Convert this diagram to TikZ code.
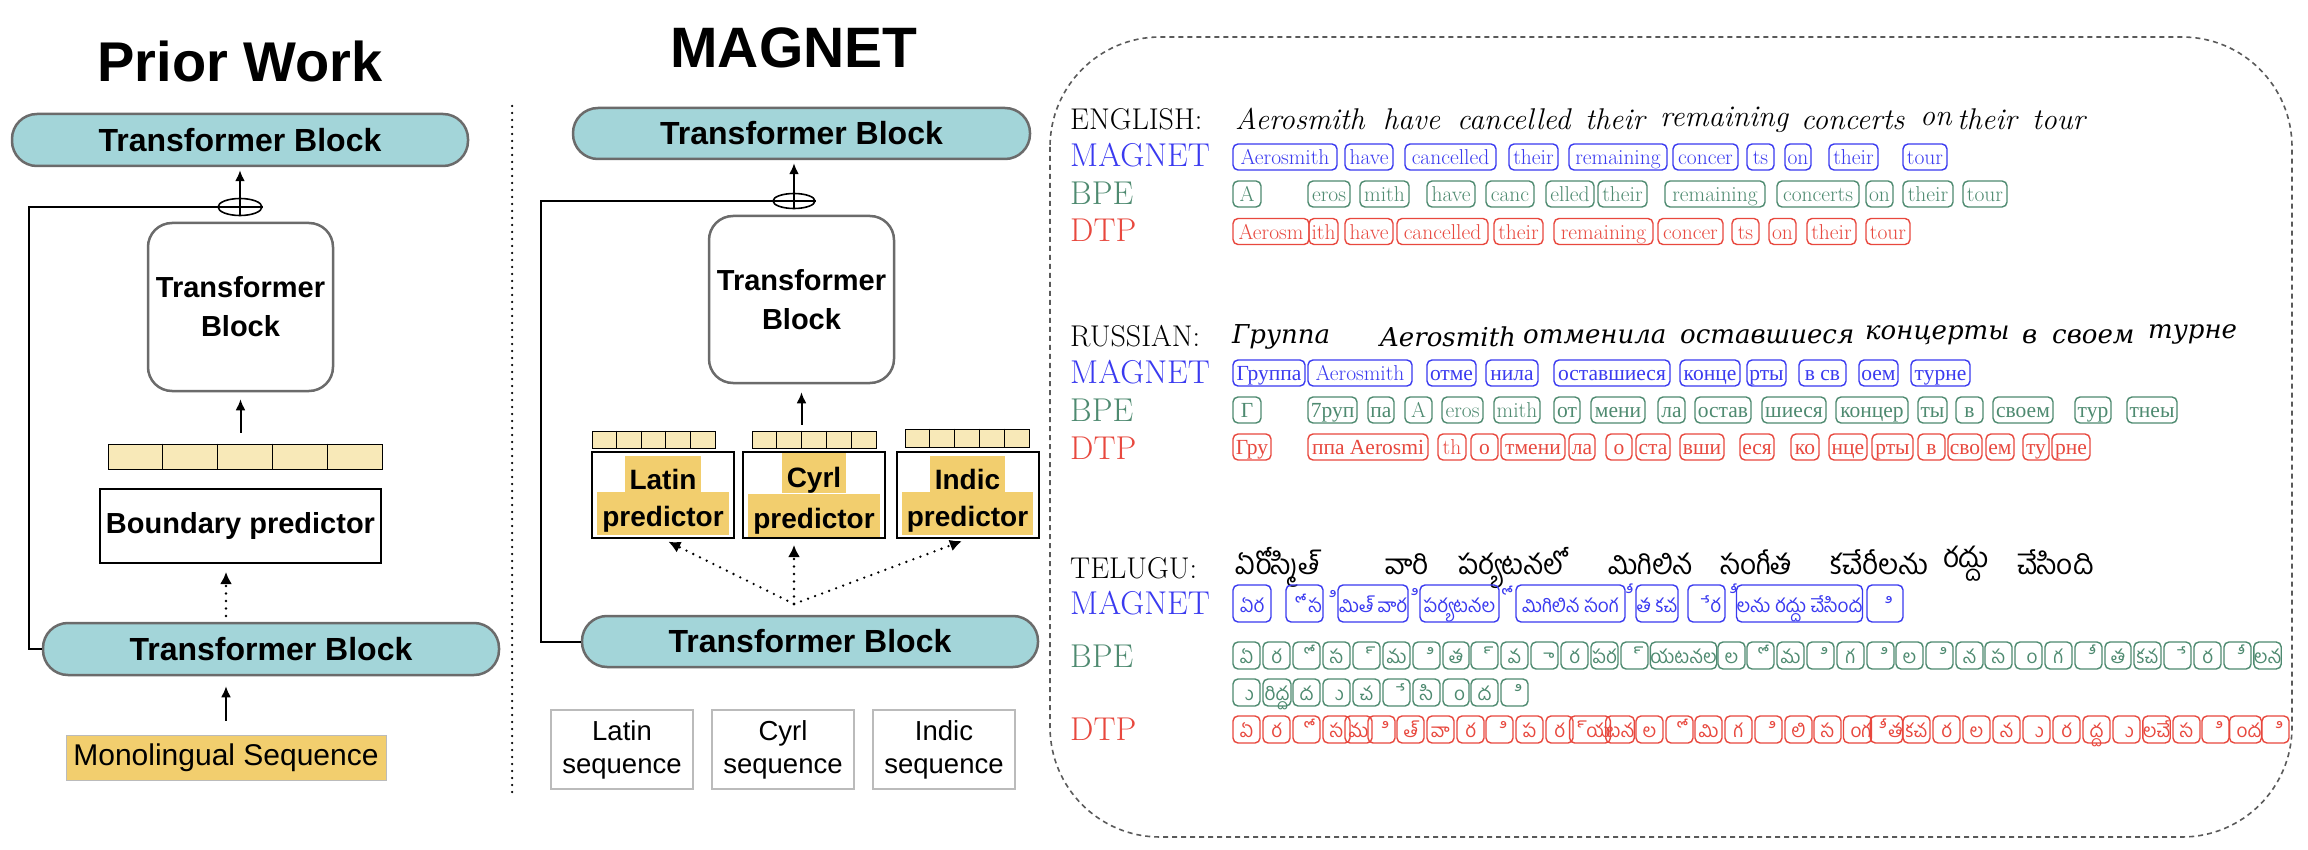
\documentclass[tikz,border=0pt]{standalone}
\usepackage{fontspec}
\usetikzlibrary{arrows.meta,shapes.geometric,calc}
\newfontfamily\hv{Liberation Sans}
\newfontfamily\ru{Liberation Serif}
\newfontfamily\rusit{DejaVu Serif}
\newfontfamily\te[Script=Telugu]{Hind Guntur}

\definecolor{blockfill}{HTML}{A3D5D9}
\definecolor{blockedge}{HTML}{6B6B6B}
\definecolor{barfill}{HTML}{F8E9B8}
\definecolor{gold}{HTML}{F2CE6E}
\definecolor{seqedge}{HTML}{BBBBBB}
\definecolor{mblue}{HTML}{3A3AF0}
\definecolor{mgreen}{HTML}{4E8A70}
\definecolor{mred}{HTML}{E8483E}
\definecolor{panelc}{HTML}{5A5A5A}

% a stand-alone vowel sign, set as its bare glyph (no base letter)
\newcommand\mk[1]{\hspace*{7pt}\XeTeXglyph\XeTeXcharglyph"#1\relax}
\newcounter{tkc}
% token box: [style]{colour}{left}{right}{centre y}{text}
\newcommand\tk[6][]{\stepcounter{tkc}%
  \node[tok,#1,draw=#2,text=#2,minimum width={(#4-(#3))*1pt}] (tok\arabic{tkc}) at ({((#3)+(#4))/2},#5) {#6};}
% five-cell embedding bar: {name}{left}{right}{top}{bottom}
\newcommand\cellbar[5]{%
  \node[cellbar,minimum width={(#3-#2)*1pt},minimum height={(#5-#4)*1pt}] (#1) at ({(#2+#3)/2},{(#4+#5)/2}) {};
  \foreach \k in {1,...,4}{\draw[line width=0.9pt] ($(#1.north west)!\k/5!(#1.north east)$) -- ($(#1.south west)!\k/5!(#1.south east)$);}}
\newcommand\hlbox[3]{{\fboxsep=0pt\colorbox{gold}{\rule[-#2]{0pt}{#3}\hspace{5pt}#1\hspace{5pt}}}}
\newcommand\predtext[1]{\hlbox{#1}{2pt}{36pt}\\\hlbox{predictor}{8pt}{43pt}}

\begin{document}
\begin{tikzpicture}[x=1pt,y=-1pt,
  paneltitle/.style={anchor=base, inner sep=0pt, font=\hv\bfseries\fontsize{56}{60}\selectfont},
  tblock/.style={draw=blockedge, line width=2.5pt, fill=blockfill, rounded corners=25pt, minimum height=52pt, inner sep=0pt, font=\hv\bfseries\fontsize{32}{38}\selectfont},
  innerblock/.style={draw=blockedge, line width=2.5pt, fill=white, rounded corners=24pt, inner sep=0pt, align=center, font=\hv\bfseries\fontsize{29}{39}\selectfont},
  oplus/.style={ellipse, draw, line width=1.6pt, inner sep=0pt},
  cellbar/.style={draw=black, line width=0.9pt, fill=barfill, inner sep=0pt},
  bndbox/.style={draw=black, line width=2pt, fill=white, inner sep=0pt, font=\hv\bfseries\fontsize{29}{34}\selectfont},
  monobox/.style={draw=seqedge, line width=1pt, fill=gold, inner sep=0pt, font=\hv\fontsize{30}{36}\selectfont},
  predbox/.style={draw=black, line width=2pt, fill=white, inner sep=0pt, minimum width=142pt, minimum height=86pt, align=center, font=\hv\bfseries\fontsize{28}{37}\selectfont},
  seqbox/.style={draw=seqedge, line width=1.5pt, inner sep=0pt, minimum width=142pt, minimum height=79pt, align=center, font=\hv\fontsize{27.5}{33}\selectfont},
  arr/.style={line width=2pt, -{Latex[length=11pt,width=10pt]}},
  darr/.style={line width=2.6pt, line cap=round, dash pattern=on 0pt off 7.5pt, -{Latex[length=12pt,width=12pt]}},
  skipline/.style={line width=2pt},
  hdr/.style={anchor=base west, inner sep=0pt, font=\fontsize{30}{36}\selectfont},
  lbl/.style={anchor=base west, inner sep=0pt, font=\fontsize{33}{38}\selectfont},
  enw/.style={anchor=base west, inner sep=0pt, font=\itshape\fontsize{30}{36}\selectfont},
  ruw/.style={anchor=base west, inner sep=0pt, font=\rusit\itshape\fontsize{26}{30}\selectfont},
  tew/.style={anchor=base west, inner sep=0pt, font=\te\fontsize{28}{34}\selectfont},
  tok/.style={rounded corners=5pt, line width=1.4pt, inner xsep=0pt, inner ysep=3pt, minimum height=26pt, text height=18pt, text depth=2pt, font=\fontsize{21.5}{24}\selectfont},
  rrow/.style={text height=17pt, text depth=3pt},
  te/.style={font=\te\fontsize{19}{22}\selectfont, minimum height=27pt, text height=17pt, text depth=2pt},
  tem/.style={te, minimum height=37pt, text height=20pt, text depth=3pt},
  signmark/.style={anchor=base east, inner sep=0pt, text=mblue, font=\te\fontsize{19}{22}\selectfont}]

\useasboundingbox (0,0) rectangle (2308,850);
\fill[white] (0,0) rectangle (2308,850);

% ---------------- Prior Work ----------------
\node[paneltitle] (ptitle) at (240,82) {Prior Work};
\node[tblock, minimum width=456pt] (ptop) at (240,140) {Transformer Block};
\node[oplus, minimum width=44pt, minimum height=17pt] (pplus) at (240,207) {};
\node[innerblock, minimum width=185pt, minimum height=168pt] (pinner) at (240.5,307) {Transformer\\Block};
\cellbar{pbar}{108}{382}{444}{469}
\node[bndbox, minimum width=281pt, minimum height=74pt] (pbnd) at (240.5,526) {Boundary predictor};
\node[tblock, minimum width=456pt] (pbot) at (271,649) {Transformer Block};
\node[monobox, minimum width=320pt, minimum height=45pt] (pmono) at (226,757.5) {Monolingual Sequence};

\draw[skipline] (pbot.west) -- ++(-13,0) |- (pplus.east);
\draw[arr, shorten >=3pt] (pplus.south) -- (ptop.south);
\draw[arr, shorten <=11pt, shorten >=7pt] (pinner.south |- pbar.north) -- (pinner.south);
\coordinate (pdsrc) at (226,616);
\draw[darr, shorten >=8pt] (pdsrc) -- (pdsrc |- pbnd.south);
\draw[arr, shorten <=14pt, shorten >=10pt] (pmono.north) -- (pmono.north |- pbot.south);

% panel separator
\draw[line width=2.5pt, line cap=round, dash pattern=on 0pt off 7pt] (512,106) -- (512,796);

% ---------------- MAGNET ----------------
\node[paneltitle, font=\hv\bfseries\fontsize{57}{60}\selectfont] (mtitle) at (794,68) {MAGNET};
\node[tblock, minimum width=457pt, minimum height=51pt] (mtop) at (801.5,133.5) {Transformer Block};
\node[oplus, minimum width=42pt, minimum height=15pt] (mplus) at (794,201) {};
\node[innerblock, minimum width=185pt, minimum height=167pt] (minner) at (801.5,299.5) {Transformer\\Block};
\cellbar{mlbar}{592}{715}{431}{448}
\cellbar{mcbar}{752}{876}{431}{448}
\cellbar{mibar}{905}{1029}{429}{447}
\node[predbox] (mlat) at (663,495) {\predtext{Latin}};
\node[predbox] (mcyr) at (814,495) {\predtext{Cyrl}};
\node[predbox] (mind) at (967.5,495) {\predtext{Indic}};
\node[tblock, minimum width=456pt, minimum height=51pt] (mbot) at (810,641.5) {Transformer Block};
\node[seqbox] (mlseq) at (622,749.5) {Latin\\sequence};
\node[seqbox] (mcseq) at (783,749.5) {Cyrl\\sequence};
\node[seqbox] (miseq) at (944,749.5) {Indic\\sequence};

\draw[skipline] (mbot.west) -- ++(-40,0) |- (mplus.east);
\draw[arr, shorten >=3pt] (mplus.south) -- (mplus.south |- mtop.south);
\draw[arr, shorten <=6pt, shorten >=8pt] (minner.south |- mcbar.north) -- (minner.south);
\coordinate (msrc) at (794,604);
\draw[darr, shorten >=6pt] (msrc) -- (mlat.south);
\draw[darr, shorten >=6pt] (msrc) -- (msrc |- mcyr.south);
\draw[darr, shorten >=6pt] (msrc) -- (mind.south);

% ---------------- tokenisation examples ----------------
\draw[draw=panelc, line width=1.6pt, dash pattern=on 5pt off 4pt, rounded corners=110pt] (1050,37) rectangle (2292,837);

% English
\node[hdr] (enh) at (1070,130) {ENGLISH:};
\node[lbl, text=mblue] (enm) at (1070,167) {MAGNET};
\node[lbl, text=mgreen] (enb) at (1070,205) {BPE};
\node[lbl, text=mred] (end) at (1070,242) {DTP};
\node[enw] (ew1) at (1235,130) {Aerosmith};
\node[enw] (ew2) at (1383,130) {have};
\node[enw] (ew3) at (1457,130) {cancelled};
\node[enw] (ew4) at (1585,130) {their};
\node[enw] (ew5) at (1660,127) {remaining};
\node[enw] (ew6) at (1801,130) {concerts};
\node[enw] (ew7) at (1920,126) {on};
\node[enw] (ew8) at (1957,130) {their};
\node[enw] (ew9) at (2032,130) {tour};

\foreach \lx/\rx/\tx in {1233/1337/Aerosmith,1345/1393/have,1405/1496/cancelled,1509/1558/their,1569/1667/remaining,1673/1738/concer,1747/1774/ts,1785/1811/on,1829/1878/their,1903/1947/tour}{\tk{mblue}{\lx}{\rx}{157}{\tx}}
\foreach \lx/\rx/\tx in {1233/1261/A,1308/1350/eros,1360/1409/mith,1427/1475/have,1486/1534/canc,1546/1594/elled,1598/1647/their,1665/1765/remaining,1777/1859/concerts,1866/1893/on,1903/1953/their,1963/2007/tour}{\tk{mgreen}{\lx}{\rx}{194}{\tx}}
\foreach \lx/\rx/\tx in {1233/1309/Aerosm,1309/1338/ith,1345/1393/have,1397/1488/cancelled,1494/1543/their,1554/1653/remaining,1658/1723/concer,1732/1759/ts,1769/1796/on,1807/1856/their,1866/1910/tour}{\tk{mred}{\lx}{\rx}{231.5}{\tx}}

% Russian
\node[hdr] (ruh) at (1070,346) {RUSSIAN:};
\node[lbl, text=mblue] (rum) at (1070,383) {MAGNET};
\node[lbl, text=mgreen] (rub) at (1070,421) {BPE};
\node[lbl, text=mred] (rud) at (1070,459) {DTP};
\node[ruw] (rw1) at (1232,343) {Группа};
\node[ruw] (rw2) at (1380,347) {Aerosmith};
\node[ruw] (rw3) at (1523,343) {отменила};
\node[ruw] (rw4) at (1680,343) {оставшиеся};
\node[ruw] (rw5) at (1865,340) {концерты};
\node[ruw] (rw6) at (2022,343) {в};
\node[ruw] (rw7) at (2052,343) {своем};
\node[ruw] (rw8) at (2148,338) {турне};

\foreach \lx/\rx/\tx in {1233/1305/\ru Группа,1308/1412/Aerosmith,1427/1476/\ru отме,1486/1538/\ru нила,1554/1670/\ru оставшиеся,1680/1740/\ru конце,1747/1786/\ru рты,1799/1846/\ru в св,1859/1898/\ru оем,1911/1970/\ru турне}{\tk[rrow]{mblue}{\lx}{\rx}{373}{\tx}}
\foreach \lx/\rx/\tx in {1233/1261/\ru Г,1308/1357/\ru 7руп,1368/1394/\ru па,1405/1432/A,1442/1483/eros,1494/1540/mith,1554/1580/\ru от,1591/1645/\ru мени,1658/1685/\ru ла,1695/1751/\ru остав,1762/1826/\ru шиеся,1836/1908/\ru концер,1918/1947/\ru ты,1956/1983/\ru в,1993/2053/\ru своем,2075/2111/\ru тур,2127/2177/\ru тнеы}{\tk[rrow]{mgreen}{\lx}{\rx}{410}{\tx}}
\foreach \lx/\rx/\tx in {1233/1271/\ru Гру,1308/1428/\ru ппа Aerosmi,1438/1466/th,1471/1498/\ru о,1501/1565/\ru тмени,1569/1595/\ru ла,1606/1632/\ru о,1636/1670/\ru ста,1680/1724/\ru вши,1740/1774/\ru еся,1791/1819/\ru ко,1829/1867/\ru нце,1872/1913/\ru рты,1918/1945/\ru в,1948/1982/\ru сво,1986/2014/\ru ем,2023/2049/\ru ту,2052/2090/\ru рне}{\tk[rrow]{mred}{\lx}{\rx}{447}{\tx}}

% Telugu
\node[hdr] (teh) at (1070,578) {TELUGU:};
\node[lbl, text=mblue] (tem) at (1070,614) {MAGNET};
\node[lbl, text=mgreen] (teb) at (1070,667) {BPE};
\node[lbl, text=mred] (ted) at (1070,740) {DTP};
\node[tew] (tw1) at (1235,574) {ఏరోస్మిత్};
\node[tew] (tw2) at (1385,574) {వారి};
\node[tew] (tw3) at (1458,574) {పర్యటనలో};
\node[tew] (tw4) at (1608,574) {మిగిలిన};
\node[tew] (tw5) at (1720,574) {సంగీత};
\node[tew] (tw6) at (1830,574) {కచేరీలను};
\node[tew] (tw7) at (1943,567) {రద్దు};
\node[tew] (tw8) at (2017,574) {చేసింది};

\foreach \lx/\rx/\tx in {1233/1271/ఏర,1286/1323/\mk{0C4B}స,1338/1408/మిత్ వార,1420/1499/పర్యటనల,1516/1625/మిగిలిన సంగ,1636/1678/త కచ,1688/1725/\mk{0C47}ర,1740/1859/లను రద్దు చేసింద,1867/1903/\mk{0C3F}}{\tk[tem]{mblue}{\lx}{\rx}{603.5}{\tx}}
\node[signmark] (fm1) at (1337,606) {\mk{0C3F}};
\node[signmark] (fm2) at (1419,604) {\mk{0C3F}};
\node[signmark] (fm3) at (1515,604) {\mk{0C4B}};
\node[signmark] (fm4) at (1635,602) {\mk{0C40}};
\node[signmark] (fm5) at (1739,602) {\mk{0C40}};

\foreach \lx/\rx/\tx in {1233/1260/ఏ,1263/1290/ర,1293/1320/\mk{0C4B},1323/1350/స,1353/1380/\mk{0C4D},1383/1410/మ,1413/1440/\mk{0C3F},1443/1469/త,1471/1498/\mk{0C4D},1501/1528/వ,1531/1558/\mk{0C3E},1561/1588/ర,1591/1618/పర,1621/1648/\mk{0C4D},1651/1716/యటనల,1718/1745/ల,1747/1774/\mk{0C4B},1777/1804/మ,1807/1834/\mk{0C3F},1837/1864/గ,1867/1894/\mk{0C3F},1896/1923/ల,1926/1953/\mk{0C3F},1956/1983/న,1985/2012/స,2015/2042/\mk{0C02},2045/2072/గ,2075/2102/\mk{0C40},2105/2131/త,2134/2161/కచ,2164/2191/\mk{0C47},2194/2221/ర,2224/2251/\mk{0C40},2254/2281/లన}{\tk[te]{mgreen}{\lx}{\rx}{655.5}{\tx}}
\foreach \lx/\rx/\tx in {1233/1260/\mk{0C41},1263/1291/రిద్ద,1293/1320/ద,1323/1350/\mk{0C41},1353/1380/చ,1383/1410/\mk{0C47},1413/1440/సి,1443/1469/\mk{0C02},1471/1498/ద,1501/1528/\mk{0C3F}}{\tk[te]{mgreen}{\lx}{\rx}{692.5}{\tx}}
\foreach \lx/\rx/\tx in {1233/1260/ఏ,1263/1290/ర,1293/1320/\mk{0C4B},1323/1350/స,1345/1372/మ,1368/1395/\mk{0C3F},1397/1424/త్,1427/1454/వా,1457/1484/ర,1486/1513/\mk{0C3F},1516/1543/ప,1546/1573/ర,1576/1604/\mk{0C4D}య,1606/1634/టన,1636/1663/ల,1666/1693/\mk{0C4B},1695/1722/మి,1725/1752/గ,1755/1782/\mk{0C3F},1785/1812/లి,1814/1841/స,1844/1871/\mk{0C02}గ,1873/1900/\mk{0C40}త,1903/1930/కచ,1933/1960/ర,1963/1990/ల,1993/2020/న,2023/2050/\mk{0C41},2053/2080/ర,2083/2110/ద్ద,2113/2140/\mk{0C41},2143/2170/లచే,2173/2200/స,2202/2229/\mk{0C3F},2232/2259/\mk{0C02}ద,2262/2289/\mk{0C3F}}{\tk[te]{mred}{\lx}{\rx}{729.5}{\tx}}

\end{tikzpicture}
\end{document}
